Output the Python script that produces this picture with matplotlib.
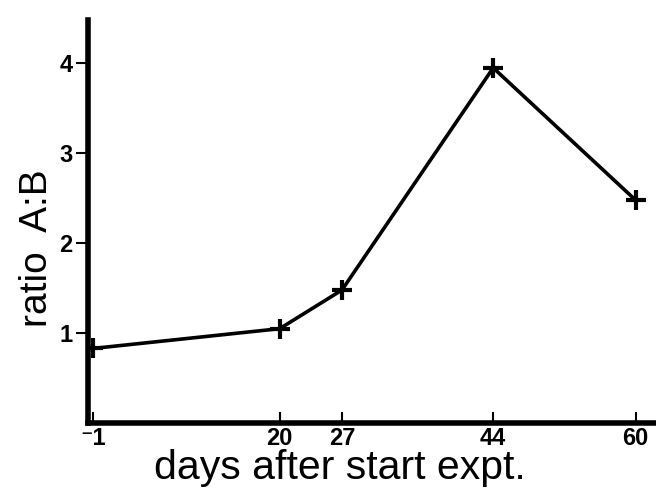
import matplotlib
matplotlib.use("Agg")
import matplotlib.pyplot as plt

# values
days = [-1, 20, 27, 44, 60]
ratio = [0.83, 1.05, 1.48, 3.95, 2.48]
xtick_labels = ["\u207b1", "20", "27", "44", "60"]
yticks = [1, 2, 3, 4]

plt.rcParams["font.family"] = ["Liberation Sans", "DejaVu Sans"]

fig = plt.figure(figsize=(6.56, 4.92), dpi=100)
ax = fig.add_axes([0.134, 0.140, 0.866, 0.819])

ax.plot(days, ratio, "-", color="black", lw=2.6,
        marker="+", ms=14, mew=3, solid_capstyle="butt")

ax.set_xlim(-1.56, 62.3)
ax.set_ylim(0, 4.48)

ax.spines["top"].set_visible(False)
ax.spines["right"].set_visible(False)
ax.spines["left"].set_linewidth(4)
ax.spines["bottom"].set_linewidth(4)

ax.set_xticks(days)
ax.set_xticklabels(xtick_labels, fontsize=17, fontweight="bold")
ax.tick_params(axis="x", direction="in", length=8, width=1.5, pad=3)
ax.set_yticks(yticks)
ax.set_yticklabels([str(v) for v in yticks], fontsize=17, fontweight="bold")
ax.tick_params(axis="y", direction="out", length=9, width=1.5, pad=2)

ax.set_xlabel("days after start expt.", fontsize=29.5)
ax.xaxis.set_label_coords(0.444, -0.065, transform=ax.transAxes)
ax.xaxis.label.set_va("top")
ax.set_ylabel("ratio  A:B", fontsize=28)
ax.yaxis.set_label_coords(-0.058, 0.434, transform=ax.transAxes)

fig.savefig("out.png", dpi=100)
